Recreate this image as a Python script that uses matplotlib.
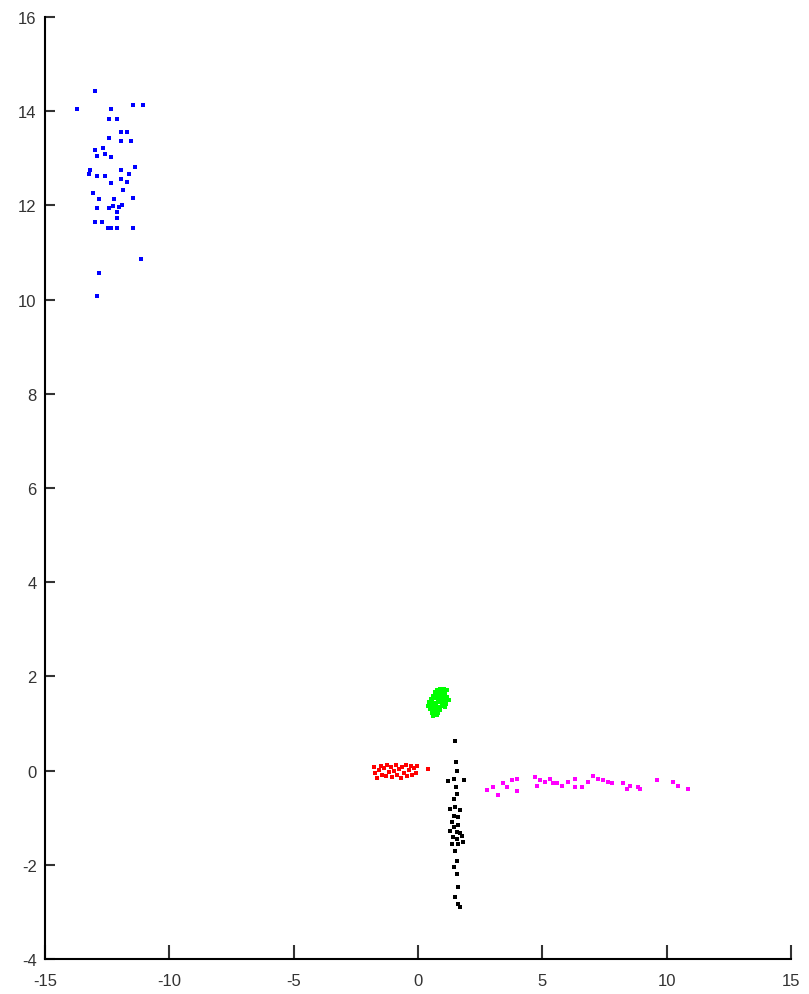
import numpy as np
import matplotlib
matplotlib.use("Agg")
import matplotlib.pyplot as plt

# cluster points
blue_x = [-12.99, -13.73, -12.35, -11.45, -11.05, -12.43, -12.09, -11.94, -11.69, -12.43,
          -11.94, -11.54, -12.99, -12.66, -12.92, -12.59, -12.35, -13.19, -13.22, -12.90,
          -12.59, -11.94, -11.38, -11.61, -12.35, -11.94, -11.69, -11.85, -13.08, -12.82,
          -11.45, -12.21, -12.25, -12.41, -11.92, -12.02, -12.12, -12.90, -12.09, -12.99,
          -12.72, -12.48, -12.36, -12.09, -11.45, -11.14, -12.82, -12.90]
blue_y = [14.43, 14.05, 14.05, 14.12, 14.12, 13.83, 13.83, 13.56, 13.56, 13.43,
          13.36, 13.37, 13.18, 13.22, 13.04, 13.09, 13.02, 12.74, 12.67, 12.62,
          12.63, 12.75, 12.82, 12.67, 12.47, 12.56, 12.49, 12.33, 12.26, 12.14,
          12.15, 12.14, 11.99, 11.94, 12.01, 11.96, 11.85, 11.94, 11.73, 11.65,
          11.65, 11.52, 11.52, 11.52, 11.52, 10.85, 10.56, 10.08]

green_x = [0.75, 0.90, 1.05, 1.15, 0.68, 0.82, 0.97, 1.10, 0.60, 0.74, 0.88, 1.02, 1.18,
           0.52, 0.66, 0.80, 0.94, 1.08, 1.25, 0.45, 0.58, 0.72, 0.86, 1.00, 1.14,
           0.42, 0.55, 0.69, 0.83, 0.97, 1.10, 0.50, 0.63, 0.77, 0.90, 0.55, 0.68,
           0.82, 0.60, 0.75]
green_y = [1.72, 1.74, 1.73, 1.70, 1.66, 1.67, 1.65, 1.64, 1.58, 1.60, 1.59, 1.58, 1.57,
           1.52, 1.53, 1.52, 1.51, 1.50, 1.49, 1.45, 1.46, 1.44, 1.45, 1.43, 1.42,
           1.38, 1.37, 1.38, 1.36, 1.37, 1.35, 1.30, 1.29, 1.30, 1.28, 1.22, 1.21,
           1.23, 1.16, 1.17]

red_x = [-1.78, -1.72, -1.65, -1.58, -1.50, -1.45, -1.38, -1.30, -1.25, -1.18, -1.10,
         -1.05, -0.98, -0.90, -0.85, -0.78, -0.70, -0.65, -0.58, -0.50, -0.45, -0.38,
         -0.30, -0.25, -0.18, -0.10, -0.05, 0.40]
red_y = [0.08, -0.05, -0.15, 0.02, 0.10, -0.10, 0.05, -0.12, 0.12, -0.02, 0.08,
         -0.14, 0.00, 0.11, -0.10, 0.04, -0.15, 0.08, -0.05, 0.12, -0.12, 0.02,
         0.10, -0.10, 0.05, -0.06, 0.09, 0.03]

black_x = [1.49, 1.52, 1.55, 1.20, 1.45, 1.85, 1.52, 1.58, 1.45, 1.30, 1.49, 1.69,
           1.45, 1.62, 1.35, 1.62, 1.28, 1.55, 1.69, 1.76, 1.40, 1.55, 1.60, 1.80,
           1.49, 1.55, 1.45, 1.55, 1.62, 1.49, 1.62, 1.69, 1.45, 1.38]
black_y = [0.62, 0.18, 0.00, -0.22, -0.18, -0.21, -0.35, -0.50, -0.61, -0.82, -0.77, -0.84,
           -0.96, -0.99, -1.09, -1.15, -1.28, -1.30, -1.33, -1.38, -1.42, -1.46, -1.56, -1.52,
           -1.70, -1.91, -2.05, -2.20, -2.48, -2.69, -2.83, -2.90, -1.20, -1.55]

magenta_x = [2.76, 3.03, 3.20, 3.43, 3.56, 3.77, 3.97, 3.97, 4.70, 4.77, 4.90, 5.10,
             5.31, 5.44, 5.57, 5.80, 6.04, 6.31, 6.31, 6.58, 6.85, 7.05, 7.25, 7.45,
             7.65, 7.79, 8.25, 8.39, 8.52, 8.86, 8.92, 9.60, 10.26, 10.46, 10.87]
magenta_y = [-0.41, -0.35, -0.51, -0.26, -0.34, -0.21, -0.18, -0.43, -0.14, -0.32, -0.21, -0.25,
             -0.18, -0.26, -0.26, -0.32, -0.25, -0.18, -0.35, -0.35, -0.25, -0.11, -0.18, -0.21,
             -0.25, -0.26, -0.26, -0.39, -0.32, -0.35, -0.39, -0.21, -0.25, -0.32, -0.39]

xticks = [-15, -10, -5, 0, 5, 10, 15]
yticks = [-4, -2, 0, 2, 4, 6, 8, 10, 12, 14, 16]

plt.rcParams['font.family'] = ['Liberation Sans', 'DejaVu Sans']
plt.rcParams['axes.unicode_minus'] = False

fig = plt.figure(figsize=(8.09, 9.95), dpi=100)
ax = fig.add_axes([0.0556, 0.0352, 0.9222, 0.9468])

ms = 3.4
ax.plot(blue_x, blue_y, 's', color=(0, 0, 1), ms=ms, mew=0)
ax.plot(green_x, green_y, 's', color=(0, 1, 0), ms=ms, mew=0)
ax.plot(red_x, red_y, 's', color=(1, 0, 0), ms=ms, mew=0)
ax.plot(black_x, black_y, 's', color='k', ms=ms, mew=0)
ax.plot(magenta_x, magenta_y, 's', color=(1, 0, 1), ms=ms, mew=0)

ax.set_xlim(-15, 15)
ax.set_ylim(-4, 16)
ax.set_xticks(xticks)
ax.set_yticks(yticks)
ax.spines['top'].set_visible(False)
ax.spines['right'].set_visible(False)
for s in ['left', 'bottom']:
    ax.spines[s].set_linewidth(1.5)
ax.tick_params(direction='in', length=7, width=1.5, labelsize=12, colors='#333333', pad=6)
ax.tick_params(axis='x', length=10, pad=10)

fig.savefig("out.png", dpi=100)
